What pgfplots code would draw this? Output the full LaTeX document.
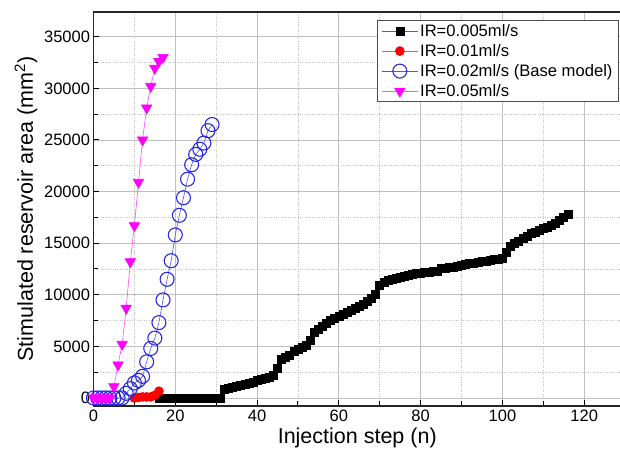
\documentclass[border=0pt]{standalone}
\usepackage{fontspec}
\setmainfont{Liberation Sans}
\usepackage{pgfplots}
\pgfplotsset{compat=1.18}
\definecolor{cblue}{RGB}{40,40,225}
\definecolor{cmag}{RGB}{255,0,255}
\begin{document}
\begin{tikzpicture}
\begin{axis}[
  scale only axis, width=527.5pt, height=394pt,
  xmin=0, xmax=129, ymin=-780, ymax=37400,
  xtick={0,20,...,120}, ytick={0,5000,...,35000},
  minor x tick num=1, minor y tick num=1,
  grid=both,
  major grid style={black!25, line width=0.9pt},
  minor grid style={black!25, dotted, line width=0.9pt},
  xtick pos=bottom, ytick pos=left,
  tick align=inside,
  major tick length=6pt, minor tick length=5pt,
  tick style={black, line width=1pt},
  axis line style={black!85, line width=1.6pt},
  /pgf/number format/assume math mode=true,
  /pgf/number format/1000 sep={},
  scaled y ticks=false,
  tick label style={font=\fontsize{16.5}{18}\selectfont},
  label style={font=\fontsize{21.5}{24}\selectfont},
  xlabel={Injection step (n)},
  ylabel={Stimulated reservoir area (mm\textsuperscript{2})},
  legend style={at={(0.996,0.98)}, anchor=north east,
    font=\fontsize{16.6}{20.5}\selectfont, draw=black!70, line width=0.8pt,
    inner xsep=4pt, inner ysep=2pt, row sep=2.5pt, cells={anchor=west}},
  legend image code/.code={\draw[mark repeat=2,mark phase=2] plot coordinates {(0pt,0pt) (18pt,0pt) (36pt,0pt)};},
]
\addplot[color=black!60, line width=0.6pt, mark=square*, mark size=4pt, mark options={solid, fill=black, draw=black}] table {
x y
16 0
17 0
18 0
19 0
20 0
21 0
22 0
23 0
24 0
25 0
26 0
27 0
28 0
29 0
30 0
31 0
32 800
33 900
34 1000
35 1100
36 1250
37 1350
38 1450
39 1550
40 1700
41 1800
42 1900
43 2000
44 2150
45 2900
46 3700
47 3900
48 4100
49 4500
50 4700
51 4900
52 5100
53 5600
54 6400
55 6700
56 6900
57 7200
58 7500
59 7700
60 7900
61 8100
62 8300
63 8500
64 8700
65 8900
66 9100
67 9400
68 9700
69 10000
70 10900
71 11200
72 11400
73 11500
74 11600
75 11700
76 11750
77 11850
78 11950
79 12050
80 12100
81 12150
82 12200
83 12250
84 12300
85 12550
86 12600
87 12650
88 12700
89 12800
90 12850
91 12950
92 13000
93 13050
94 13100
95 13200
96 13250
97 13300
98 13400
99 13450
100 13550
101 14100
102 14700
103 15000
104 15200
105 15450
106 15700
107 16000
108 16100
109 16250
110 16400
111 16550
112 16700
113 16900
114 17200
115 17500
116 17750
};
\addlegendentry{IR=0.005ml/s}
\addplot[color=red!70, line width=0.6pt, mark=*, mark size=4.5pt, mark options={solid, fill=red, draw=red}] table {
x y
10 0
11 50
12 100
13 100
14 100
15 250
16 650
};
\addlegendentry{IR=0.01ml/s}
\addplot[color=cblue!80, line width=0.6pt, mark=o, mark size=7pt, mark options={solid, draw=cblue, line width=1.1pt}] table {
x y
0 0
1 0
2 0
3 0
4 0
5 0
6 0
7 0
8 450
9 900
10 1450
11 1700
12 2100
13 3500
14 4800
15 5800
16 7300
17 9500
18 11500
19 13300
20 15800
21 17700
22 19400
23 21200
24 22600
25 23600
26 24100
27 24700
28 25900
29 26500
};
\addlegendentry{IR=0.02ml/s (Base model)}
\addplot[color=cmag!70, line width=0.6pt, mark=triangle*, mark size=6pt, mark options={solid, rotate=180, fill=cmag, draw=cmag}] table {
x y
0 0
1 0
2 0
3 0
4 0
5 1100
6 3200
7 5200
8 8700
9 13200
10 16700
11 20900
12 25000
13 28100
14 30200
15 31950
16 32600
17 33000
};
\addlegendentry{IR=0.05ml/s}
\end{axis}
\pgfresetboundingbox
\path[use as bounding box] ([xshift=-93.5pt,yshift=-55pt]current axis.south west) rectangle ([xshift=-1pt,yshift=12pt]current axis.north east);
\end{tikzpicture}
\end{document}
